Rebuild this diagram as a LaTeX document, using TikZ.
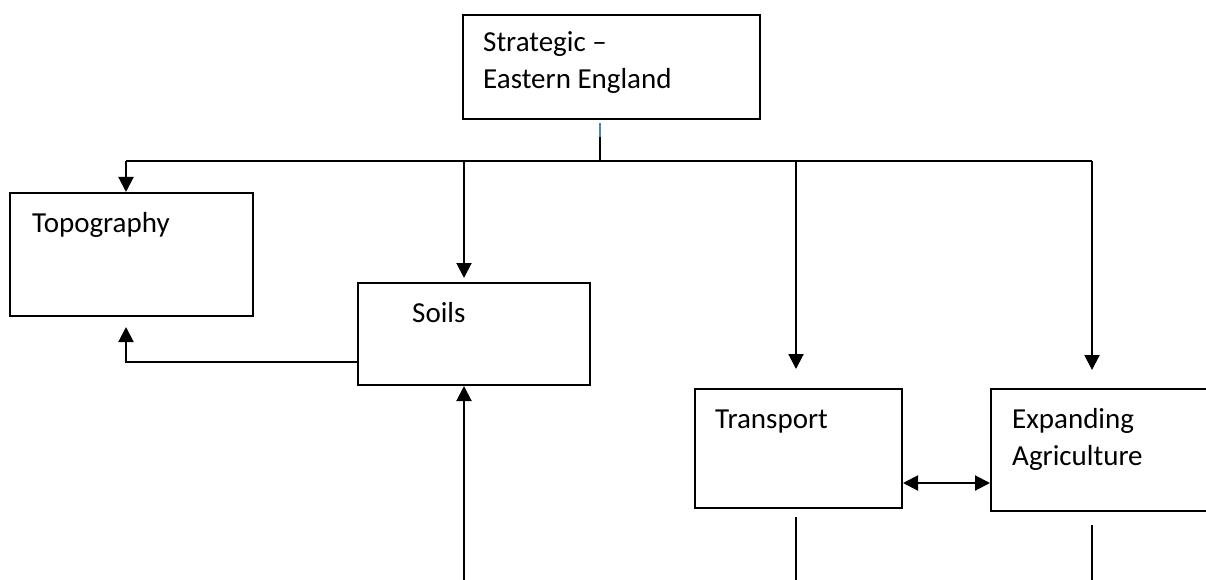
\documentclass[tikz,border=0pt]{standalone}
\usepackage{fontspec}
\setmainfont{Carlito}
\usetikzlibrary{arrows.meta}
\definecolor{tickblue}{HTML}{4F81BD}
\tikzset{
  box/.style={draw, line width=2pt, rectangle, anchor=north west, inner sep=0pt},
  txt/.style={anchor=base west, inner sep=0pt, align=left, font=\fontsize{29pt}{37pt}\selectfont},
  conn/.style={line width=2pt},
  arr/.style={conn, -{Triangle[length=15pt,width=15pt]}},
  darr/.style={conn, {Triangle[length=15pt,width=15pt]}-{Triangle[length=15pt,width=15pt]}}
}
\begin{document}
\begin{tikzpicture}[x=1pt,y=-1pt]
\useasboundingbox (0,0) rectangle (1206,580);
\clip (0,0) rectangle (1206,580);
% boxes
\node[box, minimum width=297pt, minimum height=104pt] (strat) at (462,14) {};
\node[box, minimum width=243pt, minimum height=123pt] (topo) at (9,192) {};
\node[box, minimum width=232pt, minimum height=102pt] (soils) at (357,282) {};
\node[box, minimum width=207pt, minimum height=119pt] (trans) at (694,388) {};
\node[box, minimum width=230pt, minimum height=122pt] (exp) at (990,388) {};
% texts (multi-line nodes: base anchor is the last line)
\node[txt] (stratT) at (483,89) {Strategic –\\Eastern England};
\node[txt] (topoT) at (32,232) {Topography};
\node[txt] (soilsT) at (412,322) {Soils};
\node[txt] (transT) at (715,428) {Transport};
\node[txt] (expT) at (1012,465) {Expanding\\Agriculture};
% coordinates
\coordinate (tickTop) at (600,123);
\coordinate (tickMid) at (600,137);
\coordinate (busC) at (600,161);
\coordinate (busL) at (126,161);
\coordinate (busS) at (464,161);
\coordinate (busT) at (796,161);
\coordinate (busR) at (1092,161);
\coordinate (soilsIn) at (464,278);
\coordinate (transIn) at (796,369);
\coordinate (expIn) at (1092,370);
\coordinate (soilsOut) at (357,362);
\coordinate (topoIn) at (126,327);
\coordinate (soilsFeed) at (464,580);
\coordinate (transOutA) at (796,517);
\coordinate (transOutB) at (796,580);
\coordinate (expOutA) at (1092,525);
\coordinate (expOutB) at (1092,580);
\coordinate (linkY) at (0,483);
% connectors
\draw[line width=2pt, tickblue] (tickTop) -- (tickMid);
\draw[conn] (tickMid) -- (busC);
\draw[conn] (busL) -- (busR);
\draw[arr] (busL) -- (busL |- topo.north);
\draw[arr] (busS) -- (soilsIn);
\draw[arr] (busT) -- (transIn);
\draw[arr] (busR) -- (expIn);
\draw[arr] (soilsOut) -| (topoIn);
\draw[arr] (soilsFeed) -- (soilsFeed |- soils.south);
\draw[darr] (trans.east |- linkY) -- (exp.west |- linkY);
\draw[conn] (transOutA) -- (transOutB);
\draw[conn] (expOutA) -- (expOutB);
\end{tikzpicture}
\end{document}
